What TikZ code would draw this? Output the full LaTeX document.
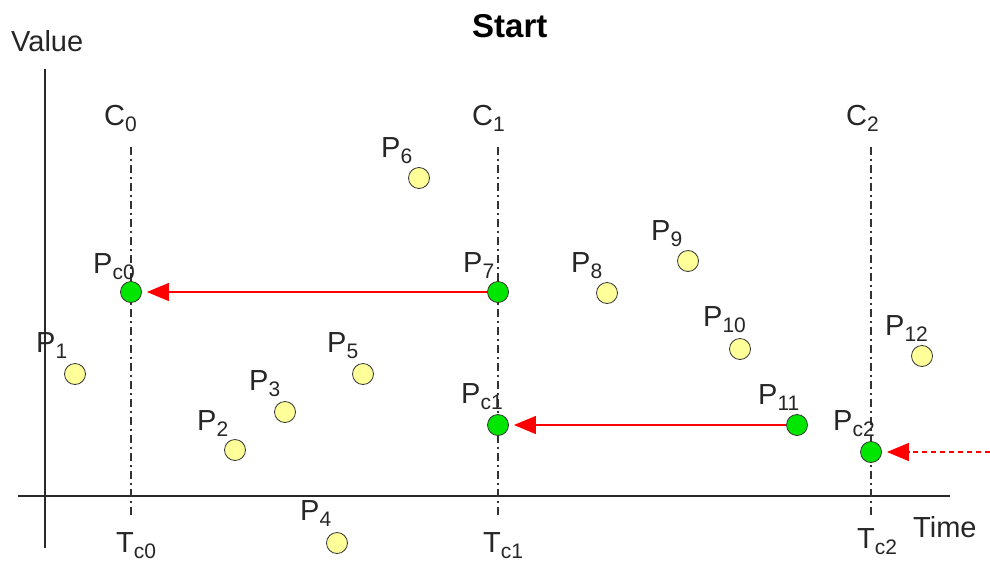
\documentclass[tikz,border=0pt]{standalone}
\usepackage{fontspec}
\setmainfont{Liberation Sans}
\usetikzlibrary{arrows.meta}
\definecolor{ptyellow}{RGB}{255,255,153}
\definecolor{ptgreen}{RGB}{0,230,0}
\definecolor{axisgray}{RGB}{40,40,40}
\newcommand\lbl[2]{#1\raisebox{-6pt}{\fontsize{21}{21}\selectfont #2}}
\tikzset{
  lab/.style={anchor=base west, inner sep=0pt, font=\fontsize{29}{30}\selectfont, text=black!85},
  ypt/.style={circle, draw=black!80, line width=0.8pt, fill=ptyellow, minimum size=21pt, inner sep=0pt},
  gpt/.style={circle, draw=black!80, line width=0.8pt, fill=ptgreen, minimum size=21pt, inner sep=0pt},
  axisline/.style={draw=axisgray, line width=1.6pt},
  cline/.style={draw=black!80, line width=1.4pt, dash pattern=on 8pt off 4pt on 2pt off 4pt},
  redarrow/.style={draw=red, line width=1.3pt, -{Triangle[length=22pt,width=18pt]}, shorten >=5pt},
}
\begin{document}
\begin{tikzpicture}[x=1pt, y=-1pt]
\useasboundingbox (0,0) rectangle (990,563);
% axes
\coordinate (ytop) at (45,69);
\coordinate (ybot) at (45,548);
\coordinate (xleft) at (18,496);
\coordinate (xright) at (950,496);
\draw[axisline] (ytop) -- (ybot);
\draw[axisline] (xleft) -- (xright);
% checkpoint lines
\coordinate (c0t) at (131,147); \coordinate (c0b) at (131,517);
\coordinate (c1t) at (498,147); \coordinate (c1b) at (498,517);
\coordinate (c2t) at (871,147); \coordinate (c2b) at (871,517);
\draw[cline] (c0t) -- (c0b);
\draw[cline] (c1t) -- (c1b);
\draw[cline] (c2t) -- (c2b);
% title and axis labels
\node[lab, font=\fontsize{33}{34}\selectfont\bfseries, text=black] (title) at (472,37) {Start};
\node[lab] (value) at (11,51) {Value};
\node[lab] (time) at (913,537) {Time};
\node[lab] (C0) at (104,125) {\lbl{C}{0}};
\node[lab] (C1) at (472,125) {\lbl{C}{1}};
\node[lab] (C2) at (846,125) {\lbl{C}{2}};
\node[lab] (T0) at (116,552) {\lbl{T}{c0}};
\node[lab] (T1) at (483,552) {\lbl{T}{c1}};
\node[lab] (T2) at (857,548) {\lbl{T}{c2}};
% points
\node[ypt] (P1) at (75,374) {};
\node[ypt] (P2) at (235,450) {};
\node[ypt] (P3) at (285,412) {};
\node[ypt] (P4) at (337,543) {};
\node[ypt] (P5) at (363,374) {};
\node[ypt] (P6) at (419,178) {};
\node[gpt] (P7) at (498,292) {};
\node[ypt] (P8) at (607,293) {};
\node[ypt] (P9) at (688,261) {};
\node[ypt] (P10) at (740,349) {};
\node[gpt] (P11) at (797,425) {};
\node[ypt] (P12) at (922,356) {};
\node[gpt] (Pc0) at (131,292) {};
\node[gpt] (Pc1) at (498,425) {};
\node[gpt] (Pc2) at (871,452) {};
% point labels
\node[lab] (lP1) at (36,352) {\lbl{P}{1}};
\node[lab] (lP2) at (197,430) {\lbl{P}{2}};
\node[lab] (lP3) at (249,390) {\lbl{P}{3}};
\node[lab] (lP4) at (300,520) {\lbl{P}{4}};
\node[lab] (lP5) at (327,352) {\lbl{P}{5}};
\node[lab] (lP6) at (381,157) {\lbl{P}{6}};
\node[lab] (lP7) at (463,272) {\lbl{P}{7}};
\node[lab] (lP8) at (571,272) {\lbl{P}{8}};
\node[lab] (lP9) at (651,240) {\lbl{P}{9}};
\node[lab] (lP10) at (703,326) {\lbl{P}{10}};
\node[lab] (lP11) at (758,404) {\lbl{P}{11}};
\node[lab] (lP12) at (885,335) {\lbl{P}{12}};
\node[lab] (lPc0) at (93,273) {\lbl{P}{c0}};
\node[lab] (lPc1) at (461,403) {\lbl{P}{c1}};
\node[lab] (lPc2) at (833,430) {\lbl{P}{c2}};
% arrows
\coordinate (incoming) at (990,452);
\draw[redarrow] (P7.west) -- (Pc0);
\draw[redarrow] (P11.west) -- (Pc1);
\draw[redarrow, dash pattern=on 5pt off 4pt] (incoming) -- (Pc2);
\end{tikzpicture}
\end{document}
